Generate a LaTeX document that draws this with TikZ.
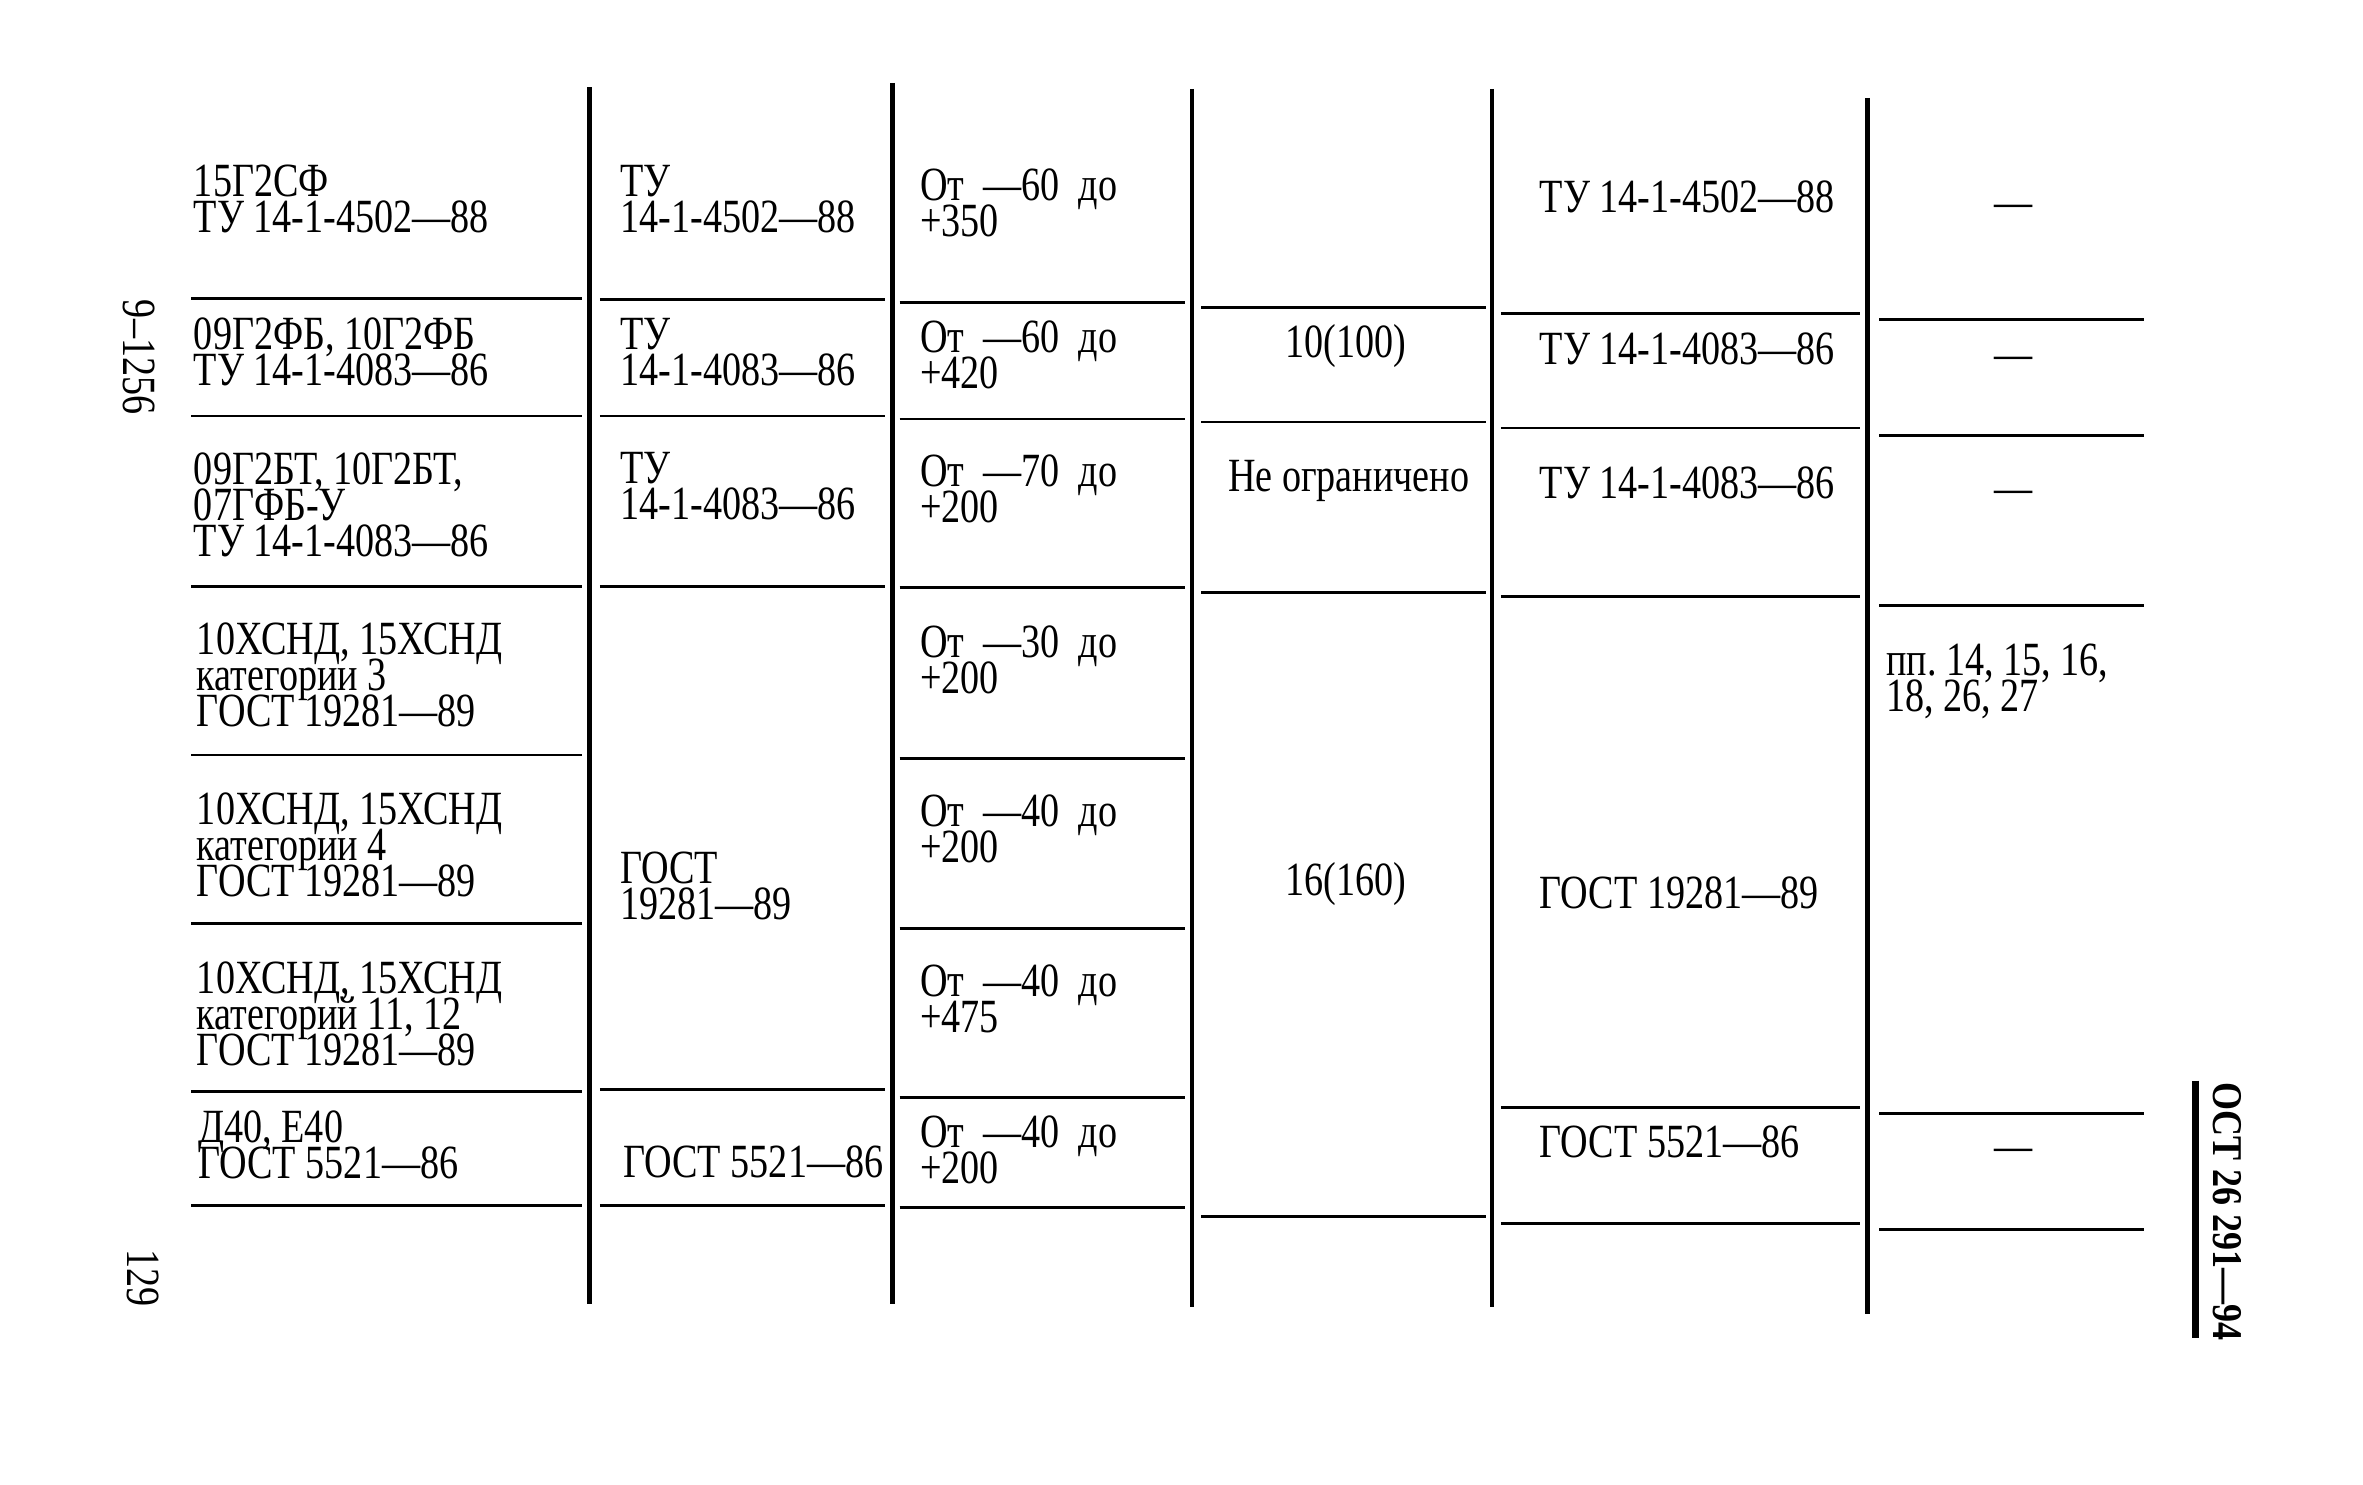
\documentclass[tikz,border=0pt]{standalone}
\usepackage{fontspec}
\setmainfont[FakeStretch=0.8]{Liberation Serif}
\newfontfamily\sidefont[FakeStretch=0.85]{Liberation Serif}
\newcommand\cellfont{\fontsize{9}{6.8}\selectfont\lineskiplimit=-100pt\relax}

\begin{document}
\begin{tikzpicture}[x=0.1mm, y=-0.1mm]
            \tikzstyle{every node} = [inner sep=0pt, font=\cellfont]
            \tikzstyle{cell} = [anchor=base west, align=left]
            \tikzstyle{rule} = [line width=0.55pt]
            \tikzstyle{colline} = [line width=0.9pt]
            \useasboundingbox[fill=white] (0,0) rectangle (1568,985);
            % column lines
            \draw[colline] (391,58) -- (391,865);
            \draw[colline] (592,55) -- (592,865);
            \draw[colline] (791,59) -- (791,867);
            \draw[colline] (990,59) -- (990,867);
            \draw[colline] (1239,65) -- (1239,872);
            \draw[line width=1.3pt] (1457,717) -- (1457,888);
            % row lines, each column on its own
            \foreach \y in {198,276,389,501,613,724,800} \draw[rule] (127,\y) -- (386,\y);
            \foreach \y in {199,276,389,723,800} \draw[rule] (398,\y) -- (587,\y);
            \foreach \y in {201,278,390,503,616,728,801} \draw[rule] (597,\y) -- (786,\y);
            \foreach \y in {204,280,393,807} \draw[rule] (797,\y) -- (986,\y);
            \foreach \y in {208,284,396,735,812} \draw[rule] (996,\y) -- (1234,\y);
            \foreach \y in {212,289,402,739,816} \draw[rule] (1247,\y) -- (1423,\y);
            % steel grade (base = last line)
            \node[cell] (gradeA) at (128,154) {15Г2СФ\\ТУ\ 14-1-4502—88};
            \node[cell] (gradeB) at (128,256) {09Г2ФБ,\ 10Г2ФБ\\ТУ\ 14-1-4083—86};
            \node[cell] (gradeC) at (128,369) {09Г2БТ,\ 10Г2БТ,\\07ГФБ-У\\ТУ\ 14-1-4083—86};
            \node[cell] (gradeD) at (130,482) {10ХСНД,\ 15ХСНД\\категории\ 3\\ГОСТ\ 19281—89};
            \node[cell] (gradeE) at (130,595) {10ХСНД,\ 15ХСНД\\категории\ 4\\ГОСТ\ 19281—89};
            \node[cell] (gradeF) at (130,707) {10ХСНД,\ 15ХСНД\\категорий\ 11,\ 12\\ГОСТ\ 19281—89};
            \node[cell] (gradeG) at (131,782) {Д40,\ Е40\\ГОСТ\ 5521—86};
            % standard
            \node[cell] (stdA) at (411,154) {ТУ\\14-1-4502—88};
            \node[cell] (stdB) at (411,256) {ТУ\\14-1-4083—86};
            \node[cell] (stdC) at (411,345) {ТУ\\14-1-4083—86};
            \node[cell] (stdD) at (411,610) {ГОСТ\\19281—89};
            \node[cell] (stdE) at (413,781) {ГОСТ\ 5521—86};
            % temperature
            \node[cell] (tempA) at (610,157) {От\ \ —60\ \ до\\+350};
            \node[cell] (tempB) at (610,258) {От\ \ —60\ \ до\\+420};
            \node[cell] (tempC) at (610,347) {От\ \ —70\ \ до\\+200};
            \node[cell] (tempD) at (610,460) {От\ \ —30\ \ до\\+200};
            \node[cell] (tempE) at (610,572) {От\ \ —40\ \ до\\+200};
            \node[cell] (tempF) at (610,685) {От\ \ —40\ \ до\\+475};
            \node[cell] (tempG) at (610,785) {От\ \ —40\ \ до\\+200};
            % pressure
            \node[anchor=base] (presA) at (893,237) {10(100)};
            \node[anchor=base] (presB) at (895,326) {Не\ ограничено};
            \node[anchor=base] (presC) at (893,594) {16(160)};
            % document
            \node[cell] (docA) at (1021,141) {ТУ\ 14-1-4502—88};
            \node[cell] (docB) at (1021,242) {ТУ\ 14-1-4083—86};
            \node[cell] (docC) at (1021,331) {ТУ\ 14-1-4083—86};
            \node[cell] (docD) at (1021,603) {ГОСТ\ 19281—89};
            \node[cell] (docE) at (1021,768) {ГОСТ\ 5521—86};
            % notes
            \node[anchor=base] (noteA) at (1336,144) {—};
            \node[anchor=base] (noteB) at (1336,245) {—};
            \node[anchor=base] (noteC) at (1336,334) {—};
            \node[cell] (noteD) at (1251,472) {пп.\ 14,\ 15,\ 16,\\18,\ 26,\ 27};
            \node[anchor=base] (noteE) at (1336,771) {—};
            % page margins
            \node[rotate=-90] (sheet) at (92,237) {9–1256};
            \node[rotate=-90] (pageno) at (95,848) {129};
            \node[rotate=-90, font=\sidefont\bfseries\fontsize{8}{8}\selectfont] (docno) at (1478,804) {ОСТ 26 291—94};
        \end{tikzpicture}
\end{document}
